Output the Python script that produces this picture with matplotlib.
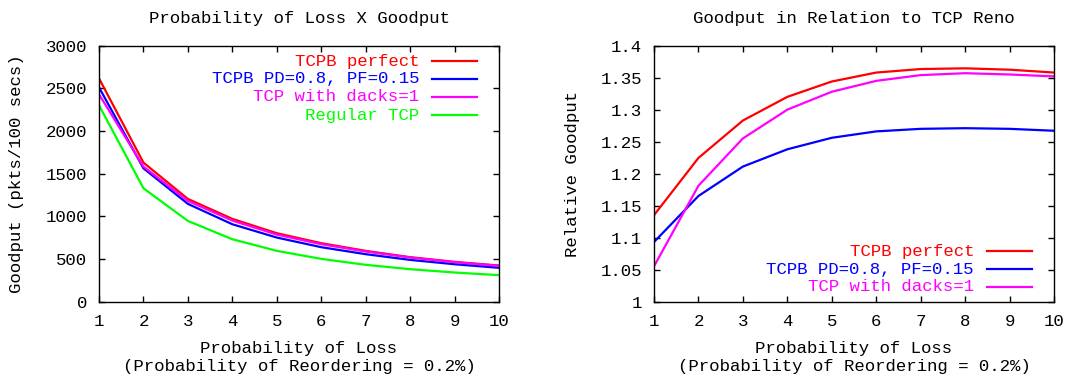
import matplotlib
matplotlib.use("Agg")
import matplotlib.pyplot as plt
from matplotlib.ticker import FuncFormatter, MultipleLocator

plt.rcParams['font.family'] = ['Liberation Mono', 'DejaVu Sans Mono']
FS = 12.5

loss = [1, 2, 3, 4, 5, 6, 7, 8, 9, 10]

# Left: goodput (pkts/100 secs)
gp_tcpb_perfect = [2617, 1629, 1203, 969, 801, 684, 594, 520, 465, 422]
gp_tcpb_pd = [2512, 1562, 1145, 906, 750, 637, 555, 488, 437, 395]
gp_dacks = [2430, 1582, 1180, 949, 785, 672, 586, 516, 461, 418]
gp_regular = [2301, 1328, 945, 730, 594, 500, 430, 379, 340, 309]

# Right: relative goodput
rel_tcpb_perfect = [1.135, 1.2245, 1.283, 1.320, 1.344, 1.358, 1.3635, 1.3646, 1.3625, 1.358]
rel_tcpb_pd = [1.093, 1.165, 1.211, 1.238, 1.256, 1.266, 1.270, 1.271, 1.270, 1.267]
rel_dacks = [1.055, 1.181, 1.255, 1.300, 1.328, 1.345, 1.354, 1.357, 1.355, 1.352]

labels_left = ["TCPB perfect", "TCPB PD=0.8, PF=0.15", "TCP with dacks=1", "Regular TCP"]
labels_right = ["TCPB perfect", "TCPB PD=0.8, PF=0.15", "TCP with dacks=1"]
colors = ["#ff0000", "#0000ff", "#ff00ff", "#00ff00"]

W, H = 1088, 379
fig = plt.figure(figsize=(W / 100, H / 100), dpi=100)

def px_axes(x0, y0, x1, y1):
    return fig.add_axes([x0 / W, 1 - y1 / H, (x1 - x0) / W, (y1 - y0) / H])

axL = px_axes(99, 45.7, 499, 301.5)
axR = px_axes(654, 45.7, 1054, 301.5)

def style(ax):
    ax.set_xlim(1, 10)
    ax.xaxis.set_major_locator(MultipleLocator(1))
    ax.tick_params(direction='in', length=4.5, width=1, top=True, right=True,
                   labelsize=FS, pad=9, colors='black')
    ax.tick_params(axis='y', pad=8.5)
    for s in ax.spines.values():
        s.set_linewidth(1)

def legend(ax, labels, ys):
    for lab, c, y in zip(labels, colors, ys):
        ax.text(0.80, y, lab, color=c, fontsize=FS, ha='right', va='center',
                transform=ax.transAxes)
        ax.plot([0.8325, 0.945], [y, y], color=c, lw=1.6, transform=ax.transAxes,
                clip_on=False)

# Left panel
for series, c in zip([gp_tcpb_perfect, gp_tcpb_pd, gp_dacks, gp_regular], colors):
    axL.plot(loss, series, color=c, lw=1.6)
style(axL)
axL.set_ylim(0, 3000)
axL.yaxis.set_major_locator(MultipleLocator(500))
legend(axL, labels_left, [0.940, 0.870, 0.800, 0.729])

# Right panel
for series, c in zip([rel_tcpb_perfect, rel_tcpb_pd, rel_dacks], colors):
    axR.plot(loss, series, color=c, lw=1.6)
style(axR)
axR.set_ylim(1, 1.4)
axR.yaxis.set_major_locator(MultipleLocator(0.05))
axR.yaxis.set_major_formatter(FuncFormatter(lambda v, p: f"{round(v, 2):g}"))
legend(axR, labels_right, [0.197, 0.127, 0.057])

# Titles and labels
fig.text(299 / W, 1 - 19 / H, "Probability of Loss X Goodput", ha='center', va='center', fontsize=FS)
fig.text(854 / W, 1 - 19 / H, "Goodput in Relation to TCP Reno", ha='center', va='center', fontsize=FS)
for cx in (299, 854):
    fig.text(cx / W, 1 - 348 / H, "Probability of Loss", ha='center', va='center', fontsize=FS)
    fig.text(cx / W, 1 - 367 / H, "(Probability of Reordering = 0.2%)", ha='center', va='center', fontsize=FS)
fig.text(17 / W, 1 - 174 / H, "Goodput (pkts/100 secs)", rotation=90, ha='center', va='center', fontsize=FS)
fig.text(572 / W, 1 - 174 / H, "Relative Goodput", rotation=90, ha='center', va='center', fontsize=FS)

fig.savefig("out.png", dpi=100)
